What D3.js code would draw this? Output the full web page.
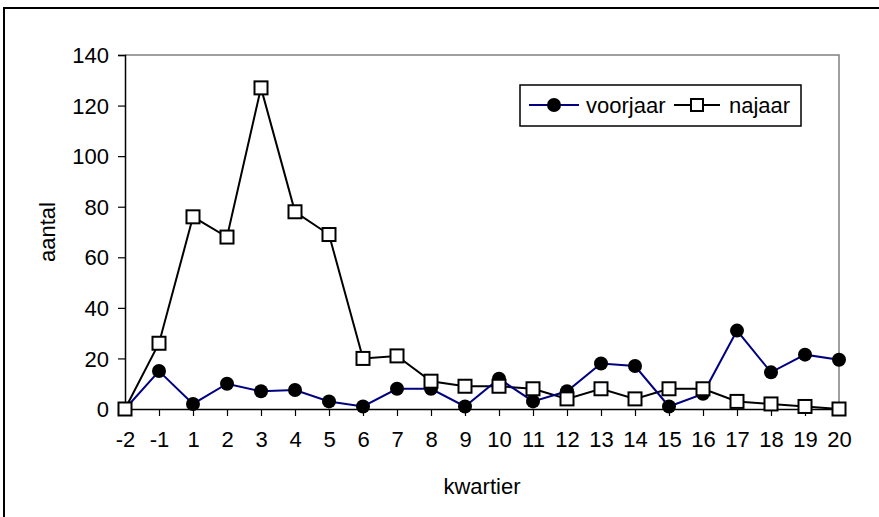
<!DOCTYPE html>
<html>
<head>
<meta charset="utf-8">
<script src="https://cdn.jsdelivr.net/npm/d3@7"></script>
<style>
  body { margin: 0; background: #fff; }
  text { font-family: "Liberation Sans", Arial, sans-serif; fill: #000; }
</style>
</head>
<body>
<svg width="879" height="517"></svg>
<script>
// categories (kwartier) and counts per season
const kwartier = ['-2', '-1', '1', '2', '3', '4', '5', '6', '7', '8', '9', '10',
  '11', '12', '13', '14', '15', '16', '17', '18', '19', '20'];
const voorjaar = [0, 15, 2, 10, 7, 7.5, 3, 1, 8, 8, 1, 12, 3, 7, 18, 17, 1, 6, 31, 14.5, 21.5, 19.5];
const najaar = [0, 26, 76, 68, 127, 78, 69, 20, 21, 11, 9, 9, 8, 4, 8, 4, 8, 8, 3, 2, 1, 0];
const yTicks = [0, 20, 40, 60, 80, 100, 120, 140];

var svg = d3.select('svg');

// outer chart frame
svg.append('rect')
  .attr('x', 4).attr('y', 8)
  .attr('width', 900).attr('height', 600)
  .attr('fill', 'none')
  .attr('stroke', '#000')
  .attr('stroke-width', 2);

var plotLeft = 125, plotRight = 839, plotTop = 55, plotBottom = 409;

var x = d3.scalePoint().domain(kwartier).range([plotLeft, plotRight]);
var y = d3.scaleLinear().domain([0, 140]).range([plotBottom, plotTop]);

// plot area border (top/right grey)
svg.append('path')
  .attr('d', 'M' + plotLeft + ',' + plotTop + 'H' + plotRight + 'V' + plotBottom)
  .attr('fill', 'none')
  .attr('stroke', '#808080')
  .attr('stroke-width', 1.5);

// y axis
var yAxis = svg.append('g')
  .attr('transform', 'translate(' + plotLeft + ',0)')
  .call(d3.axisLeft(y).tickValues(yTicks).tickSize(7).tickPadding(9));
yAxis.select('.domain').attr('stroke-width', 1.5);
yAxis.selectAll('.tick line').attr('stroke-width', 1.2);
yAxis.selectAll('text').style('font-size', '22px').attr('dy', '0.35em');

// x axis
var xAxis = svg.append('g')
  .attr('transform', 'translate(0,' + plotBottom + ')')
  .call(d3.axisBottom(x).tickSize(7).tickPadding(15));
xAxis.select('.domain').attr('stroke-width', 1.5);
xAxis.selectAll('.tick line').attr('stroke-width', 1.2);
xAxis.selectAll('text').style('font-size', '22px');

// axis titles
svg.append('text')
  .attr('x', (plotLeft + plotRight) / 2).attr('y', 494)
  .attr('text-anchor', 'middle')
  .style('font-size', '22px')
  .text('kwartier');

svg.append('text')
  .attr('transform', 'translate(55,' + (plotTop + plotBottom) / 2 + ') rotate(-90)')
  .attr('text-anchor', 'middle')
  .style('font-size', '22px')
  .text('aantal');

var line = d3.line()
  .x(function (d, i) { return x(kwartier[i]); })
  .y(function (d) { return y(d); });

// najaar series
svg.append('path')
  .datum(najaar)
  .attr('d', line)
  .attr('fill', 'none')
  .attr('stroke', '#000')
  .attr('stroke-width', 2);

// voorjaar series
svg.append('path')
  .datum(voorjaar)
  .attr('d', line)
  .attr('fill', 'none')
  .attr('stroke', '#000080')
  .attr('stroke-width', 2);

svg.append('g').selectAll('circle')
  .data(voorjaar)
  .enter()
  .append('circle')
  .attr('cx', function (d, i) { return x(kwartier[i]); })
  .attr('cy', function (d) { return y(d); })
  .attr('r', 7)
  .attr('fill', '#000');

svg.append('g').selectAll('rect')
  .data(najaar)
  .enter()
  .append('rect')
  .attr('x', function (d, i) { return x(kwartier[i]) - 6.5; })
  .attr('y', function (d) { return y(d) - 6.5; })
  .attr('width', 13)
  .attr('height', 13)
  .attr('fill', '#fff')
  .attr('stroke', '#000')
  .attr('stroke-width', 2);

// legend
var legend = svg.append('g').attr('class', 'legend');
legend.append('rect')
  .attr('x', 520).attr('y', 85)
  .attr('width', 281).attr('height', 41)
  .attr('fill', '#fff')
  .attr('stroke', '#000')
  .attr('stroke-width', 1.5);

legend.append('line')
  .attr('x1', 529).attr('x2', 579).attr('y1', 105).attr('y2', 105)
  .attr('stroke', '#000080').attr('stroke-width', 2);
legend.append('circle')
  .attr('cx', 554).attr('cy', 105).attr('r', 7).attr('fill', '#000');
legend.append('text')
  .attr('x', 586).attr('y', 113)
  .style('font-size', '22px')
  .text('voorjaar');

legend.append('line')
  .attr('x1', 674).attr('x2', 720).attr('y1', 105).attr('y2', 105)
  .attr('stroke', '#000').attr('stroke-width', 2);
legend.append('rect')
  .attr('x', 691).attr('y', 99).attr('width', 12).attr('height', 12)
  .attr('fill', '#fff').attr('stroke', '#000').attr('stroke-width', 2);
legend.append('text')
  .attr('x', 729).attr('y', 113)
  .style('font-size', '22px')
  .text('najaar');
</script>
</body>
</html>
